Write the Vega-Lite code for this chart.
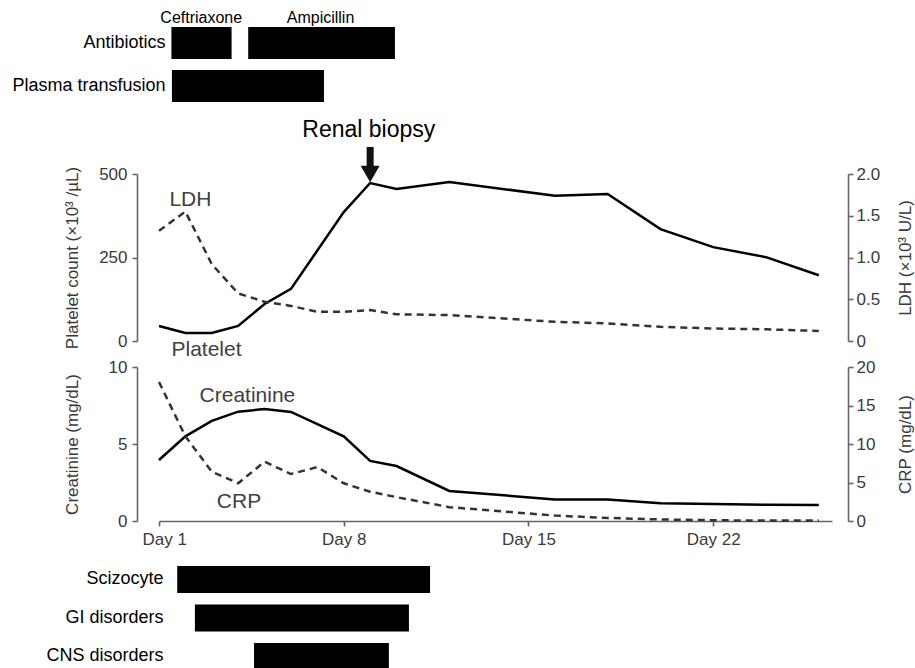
{
  "$schema": "https://vega.github.io/schema/vega-lite/v6.json",
  "padding": {"left": 11, "top": 9, "right": 2, "bottom": 0},
  "bounds": "flush",
  "spacing": 26,
  "config": {
    "view": {"stroke": null},
    "font": "Liberation Sans",
    "axis": {
      "grid": false,
      "domainColor": "#666666",
      "domainWidth": 1.6,
      "tickColor": "#666666",
      "tickWidth": 1.6,
      "tickSize": 5,
      "labelColor": "#3a3a3a",
      "labelFontSize": 17,
      "labelFont": "Liberation Sans",
      "titleFont": "Liberation Sans",
      "titleColor": "#3a3a3a",
      "titleFontSize": 17,
      "titleFontWeight": "normal"
    }
  },
  "vconcat": [
    {
      "width": 673,
      "height": 121,
      "encoding": {
        "y": {
          "field": "task", "type": "nominal", "sort": null,
          "scale": {"domain": ["Antibiotics", "Plasma transfusion"], "paddingInner": 0.256, "paddingOuter": 0.535, "align": 0},
          "axis": {"title": null, "domain": false, "ticks": false, "tickSize": 0, "labelPadding": -6, "labelFontSize": 18, "labelColor": "#000000"}
        }
      },
      "layer": [
        {
          "data": {"values": [
            {"task": "Antibiotics", "start": 1.47, "end": 3.75},
            {"task": "Antibiotics", "start": 4.38, "end": 9.94},
            {"task": "Plasma transfusion", "start": 1.49, "end": 7.25}
          ]},
          "mark": {"type": "bar", "color": "#000000"},
          "encoding": {
            "x": {"field": "start", "type": "quantitative", "scale": {"domain": [1, 26.5], "nice": false, "zero": false}, "axis": null},
            "x2": {"field": "end"}
          }
        },
        {
          "data": {"values": [
            {"task": "Antibiotics", "day": 2.6, "label": "Ceftriaxone"},
            {"task": "Antibiotics", "day": 7.12, "label": "Ampicillin"}
          ]},
          "mark": {"type": "text", "baseline": "alphabetic", "dy": -20, "fontSize": 16, "color": "#000000"},
          "encoding": {
            "x": {"field": "day", "type": "quantitative", "scale": {"domain": [1, 26.5], "nice": false, "zero": false}, "axis": null},
            "text": {"field": "label"}
          }
        }
      ]
    },
    {
      "width": 673,
      "height": 167,
      "encoding": {
        "x": {"field": "day", "type": "quantitative", "scale": {"domain": [1, 26.5], "nice": false, "zero": false}, "axis": null}
      },
      "layer": [
        {
          "encoding": {
            "y": {
              "field": "v", "type": "quantitative",
              "scale": {"domain": [0, 500], "nice": false},
              "axis": {"orient": "left", "offset": 22, "values": [0, 250, 500], "labelPadding": 5, "title": "Platelet count (×10³ /µL)", "titleAngle": -90, "titleBaseline": "bottom", "titleX": -56}
            }
          },
          "layer": [
            {
              "data": {"values": [
                {"day": 1, "v": 45}, {"day": 2, "v": 24}, {"day": 3, "v": 24}, {"day": 4, "v": 45},
                {"day": 5, "v": 111}, {"day": 6, "v": 156}, {"day": 8, "v": 386}, {"day": 9, "v": 473},
                {"day": 10, "v": 455}, {"day": 12, "v": 476}, {"day": 16, "v": 435}, {"day": 18, "v": 440},
                {"day": 20, "v": 335}, {"day": 22, "v": 281}, {"day": 24, "v": 251}, {"day": 26, "v": 197}
              ]},
              "mark": {"type": "line", "color": "#000000", "strokeWidth": 2.5}
            },
            {
              "data": {"values": [
                {"day": 2.19, "v": 404, "label": "LDH"},
                {"day": 2.8, "v": -45, "label": "Platelet"}
              ]},
              "mark": {"type": "text", "baseline": "alphabetic", "fontSize": 21, "color": "#404040"},
              "encoding": {"text": {"field": "label"}}
            },
            {
              "data": {"values": [{"day": 8.95, "v": 611, "label": "Renal biopsy"}]},
              "mark": {"type": "text", "baseline": "alphabetic", "fontSize": 23, "color": "#000000"},
              "encoding": {"text": {"field": "label"}}
            },
            {
              "data": {"values": [{"day": 9, "v": 581, "v2": 505}]},
              "mark": {"type": "rule", "color": "#111111", "strokeWidth": 7},
              "encoding": {"y2": {"field": "v2"}}
            },
            {
              "data": {"values": [{"day": 9, "v": 500}]},
              "mark": {"type": "point", "shape": "triangle-down", "filled": true, "opacity": 1, "size": 361, "color": "#111111"}
            }
          ]
        },
        {
          "data": {"values": [
            {"day": 1, "v": 1.32}, {"day": 2, "v": 1.55}, {"day": 3, "v": 0.92}, {"day": 4, "v": 0.57},
            {"day": 5, "v": 0.47}, {"day": 6, "v": 0.42}, {"day": 7, "v": 0.35}, {"day": 8, "v": 0.35},
            {"day": 9, "v": 0.37}, {"day": 10, "v": 0.32}, {"day": 12, "v": 0.31}, {"day": 16, "v": 0.23},
            {"day": 18, "v": 0.21}, {"day": 20, "v": 0.17}, {"day": 22, "v": 0.15}, {"day": 24, "v": 0.14},
            {"day": 26, "v": 0.12}
          ]},
          "mark": {"type": "line", "color": "#333333", "strokeWidth": 2.5, "strokeDash": [7, 5]},
          "encoding": {
            "y": {
              "field": "v", "type": "quantitative",
              "scale": {"domain": [0, 2], "nice": false},
              "axis": {"orient": "right", "offset": 16, "values": [0, 0.5, 1, 1.5, 2], "labelPadding": 3, "labelExpr": "datum.value === 0 ? '0' : format(datum.value, '.1f')", "title": "LDH (×10³ U/L)", "titleAngle": -90, "titleBaseline": "top", "titleX": 49}
            }
          }
        }
      ],
      "resolve": {"scale": {"y": "independent"}, "axis": {"y": "independent"}}
    },
    {
      "width": 673,
      "height": 154,
      "encoding": {
        "x": {
          "field": "day", "type": "quantitative",
          "scale": {"domain": [1, 26.5], "nice": false, "zero": false},
          "axis": {"values": [1, 8, 15, 22], "labelExpr": "'Day ' + datum.value", "title": null, "labelPadding": 5, "labelFlush": true, "labelFlushOffset": 17}
        }
      },
      "layer": [
        {
          "encoding": {
            "y": {
              "field": "v", "type": "quantitative",
              "scale": {"domain": [0, 10], "nice": false},
              "axis": {"orient": "left", "offset": 22, "values": [0, 5, 10], "labelPadding": 5, "title": "Creatinine (mg/dL)", "titleAngle": -90, "titleBaseline": "bottom", "titleX": -56}
            }
          },
          "layer": [
            {
              "data": {"values": [
                {"day": 1, "v": 3.96}, {"day": 2, "v": 5.5}, {"day": 3, "v": 6.5}, {"day": 4, "v": 7.1},
                {"day": 5, "v": 7.27}, {"day": 6, "v": 7.08}, {"day": 8, "v": 5.5}, {"day": 9, "v": 3.9},
                {"day": 10, "v": 3.57}, {"day": 12, "v": 1.95}, {"day": 16, "v": 1.4}, {"day": 18, "v": 1.4},
                {"day": 20, "v": 1.15}, {"day": 22, "v": 1.1}, {"day": 24, "v": 1.05}, {"day": 26, "v": 1.04}
              ]},
              "mark": {"type": "line", "color": "#000000", "strokeWidth": 2.5}
            },
            {
              "data": {"values": [
                {"day": 4.35, "v": 7.73, "label": "Creatinine"},
                {"day": 4.03, "v": 0.84, "label": "CRP"}
              ]},
              "mark": {"type": "text", "baseline": "alphabetic", "fontSize": 21, "color": "#404040"},
              "encoding": {"text": {"field": "label"}}
            }
          ]
        },
        {
          "data": {"values": [
            {"day": 1, "v": 18.05}, {"day": 2, "v": 11}, {"day": 3, "v": 6.4}, {"day": 4, "v": 4.9},
            {"day": 5, "v": 7.7}, {"day": 6, "v": 6.1}, {"day": 7, "v": 7.0}, {"day": 8, "v": 4.9},
            {"day": 9, "v": 3.8}, {"day": 10, "v": 3.1}, {"day": 12, "v": 1.8}, {"day": 16, "v": 0.7},
            {"day": 18, "v": 0.4}, {"day": 20, "v": 0.2}, {"day": 22, "v": 0.1}, {"day": 24, "v": 0.05},
            {"day": 26, "v": 0.05}
          ]},
          "mark": {"type": "line", "color": "#333333", "strokeWidth": 2.5, "strokeDash": [7, 5]},
          "encoding": {
            "y": {
              "field": "v", "type": "quantitative",
              "scale": {"domain": [0, 20], "nice": false},
              "axis": {"orient": "right", "offset": 16, "values": [0, 5, 10, 15, 20], "labelPadding": 3, "title": "CRP (mg/dL)", "titleAngle": -90, "titleBaseline": "top", "titleX": 49}
            }
          }
        }
      ],
      "resolve": {"scale": {"y": "independent"}, "axis": {"y": "independent"}}
    },
    {
      "width": 673,
      "height": 130,
      "data": {"values": [
        {"task": "Scizocyte", "start": 1.69, "end": 11.27},
        {"task": "GI disorders", "start": 2.36, "end": 10.47},
        {"task": "CNS disorders", "start": 4.6, "end": 9.71}
      ]},
      "mark": {"type": "bar", "color": "#000000"},
      "encoding": {
        "y": {
          "field": "task", "type": "nominal", "sort": null,
          "scale": {"domain": ["Scizocyte", "GI disorders", "CNS disorders"], "paddingInner": 0.3, "paddingOuter": 0.338, "align": 0.73},
          "axis": {"title": null, "domain": false, "ticks": false, "tickSize": 0, "labelPadding": -4, "labelFontSize": 18, "labelColor": "#000000"}
        },
        "x": {"field": "start", "type": "quantitative", "scale": {"domain": [1, 26.5], "nice": false, "zero": false}, "axis": null},
        "x2": {"field": "end"}
      }
    }
  ]
}
